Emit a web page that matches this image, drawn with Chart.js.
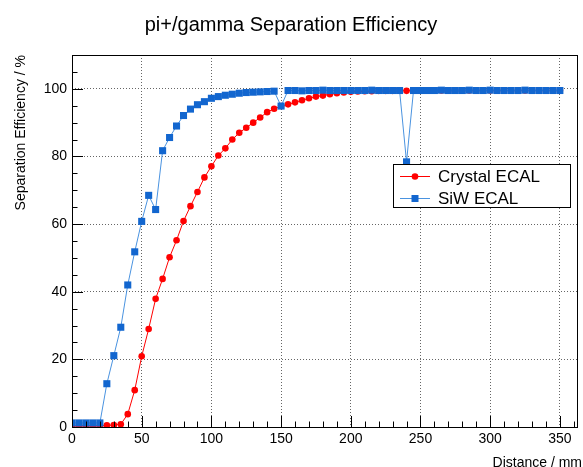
<!DOCTYPE html>
<html>
<head>
<meta charset="utf-8">
<script src="https://cdn.jsdelivr.net/npm/chart.js@4/dist/chart.umd.min.js"></script>
<style>
  html, body { margin: 0; padding: 0; background: #fff; }
  canvas { display: block; }
</style>
</head>
<body>
<canvas id="chart" width="583" height="467"></canvas>
<script>
const distances = [
  0, 5, 10, 15, 20, 25, 30, 35, 40, 45, 50, 55, 60, 65, 70, 75, 80, 85, 90, 95,
  100, 105, 110, 115, 120, 125, 130, 135, 140, 145, 150, 155, 160, 165, 170, 175,
  180, 185, 190, 195, 200, 205, 210, 215, 220, 225, 230, 235, 240, 245, 250, 255,
  260, 265, 270, 275, 280, 285, 290, 295, 300, 305, 310, 315, 320, 325, 330, 335,
  340, 345, 350
]
const crystalEcal = [
  0.3, 0.3, 0.3, 0.3, 0.3, 0.5, 0.6, 0.8, 3.8, 10.9, 20.9, 29.0, 37.9, 43.8, 50.2, 55.2, 60.9, 65.3, 69.5, 73.8,
  77.1, 80.3, 82.4, 85.0, 87.0, 88.5, 90.0, 91.5, 93.1, 94.1, 94.9, 95.4, 96.0, 96.6, 97.2, 97.7,
  98.0, 98.4, 98.7, 98.9, 99.1, 99.2, 99.3, 99.3, 99.4, 99.4, 99.4, 99.5, 99.4, 99.5, 99.5, 99.5,
  99.5, 99.5, 99.5, 99.5, 99.5, 99.5, 99.5, 99.5, 99.5, 99.5, 99.5, 99.5, 99.5, 99.5, 99.5, 99.5,
  99.5, 99.5, 99.5
]
const siwEcal = [
  1.2, 1.2, 1.2, 1.2, 1.2, 12.8, 21.1, 29.5, 42.0, 51.8, 60.8, 68.5, 64.3, 81.7, 85.6, 89.0, 92.1, 94.0, 95.3, 96.2,
  97.2, 97.7, 98.1, 98.4, 98.7, 98.9, 99.0, 99.1, 99.2, 99.3, 94.9, 99.5, 99.5, 99.4, 99.5, 99.5,
  99.6, 99.5, 99.5, 99.5, 99.5, 99.5, 99.5, 99.6, 99.5, 99.5, 99.5, 99.5, 78.4, 99.5, 99.5, 99.5,
  99.5, 99.6, 99.5, 99.5, 99.5, 99.6, 99.5, 99.5, 99.6, 99.5, 99.5, 99.5, 99.5, 99.6, 99.5, 99.5,
  99.5, 99.5, 99.5
]
const xTicks = [0, 50, 100, 150, 200, 250, 300, 350]
const yTicks = [0, 20, 40, 60, 80, 100]

const FONT = '"Liberation Sans", Arial, Helvetica, sans-serif'
const RED = '#ff0000'
const BLUE = '#1266cf'
const BLUE_LINE = '#4a93e0'

const toPoints = (ys) => distances.map((x, i) => ({ x, y: ys[i] }))

// ROOT-style frame, inward ticks, titles and legend box
const rootDecor = {
  id: 'rootDecor',
  afterDatasetsDraw(chart) {
    const { ctx, chartArea: a, scales: { x, y } } = chart
    ctx.save()
    ctx.strokeStyle = '#000'
    ctx.lineWidth = 1

    ctx.beginPath()
    for (let v = 0; v <= 360; v += 10) {
      const px = Math.round(x.getPixelForValue(v)) + 0.5
      const len = v % 50 === 0 ? 11 : 5.5
      ctx.moveTo(px, a.bottom)
      ctx.lineTo(px, a.bottom - len)
    }
    for (let v = 0; v <= 110; v += 5) {
      const py = Math.round(y.getPixelForValue(v)) + 0.5
      const len = v % 20 === 0 ? 11 : 5.5
      ctx.moveTo(a.left, py)
      ctx.lineTo(a.left + len, py)
    }
    ctx.stroke()
    ctx.strokeRect(a.left + 0.5, a.top + 0.5, a.right - a.left - 1, a.bottom - a.top)

    ctx.fillStyle = '#000'
    ctx.font = '20px ' + FONT
    ctx.textAlign = 'center'
    ctx.textBaseline = 'alphabetic'
    ctx.fillText('pi+/gamma Separation Efficiency', 291, 31)

    ctx.font = '14px ' + FONT
    ctx.textAlign = 'right'
    ctx.fillText('Distance / mm', 582, 467)

    ctx.save()
    ctx.translate(25, a.top)
    ctx.rotate(-Math.PI / 2)
    ctx.textAlign = 'right'
    ctx.fillText('Separation Efficiency / %', 0, 0)
    ctx.restore()

    // legend
    ctx.fillStyle = '#fff'
    ctx.fillRect(393, 164, 178, 44)
    ctx.strokeRect(393.5, 164.5, 177, 43)
    const entries = [
      { label: 'Crystal ECAL', line: RED, mark: RED, style: 'circle', yy: 176 },
      { label: 'SiW ECAL', line: BLUE_LINE, mark: BLUE, style: 'rect', yy: 198 }
    ]
    entries.forEach((e) => {
      ctx.strokeStyle = e.line
      ctx.beginPath()
      ctx.moveTo(400, e.yy + 0.5)
      ctx.lineTo(430, e.yy + 0.5)
      ctx.stroke()
      ctx.fillStyle = e.mark
      if (e.style === 'circle') {
        ctx.beginPath()
        ctx.arc(415, e.yy + 0.5, 3.3, 0, Math.PI * 2)
        ctx.fill()
      } else {
        ctx.fillRect(411.5, e.yy - 3, 7, 7)
      }
      ctx.fillStyle = '#000'
      ctx.font = '17px ' + FONT
      ctx.textAlign = 'left'
      ctx.textBaseline = 'middle'
      ctx.fillText(e.label, 438, e.yy + 1)
    })
    ctx.restore()
  }
}

const dotted = { color: '#666', lineWidth: 1, drawTicks: false }

new Chart(document.getElementById('chart'), {
  type: 'line',
  data: {
    datasets: [
      {
        label: 'Crystal ECAL',
        data: toPoints(crystalEcal),
        borderColor: RED,
        backgroundColor: RED,
        borderWidth: 1,
        pointStyle: 'circle',
        pointRadius: 3.3,
        pointBorderWidth: 0,
        order: 1
      },
      {
        label: 'SiW ECAL',
        data: toPoints(siwEcal),
        borderColor: BLUE_LINE,
        backgroundColor: BLUE,
        borderWidth: 1,
        pointStyle: 'rect',
        pointRadius: 5,
        pointBorderWidth: 0,
        order: 0
      }
    ]
  },
  plugins: [rootDecor],
  options: {
    responsive: false,
    animation: false,
    layout: { padding: { top: 55, right: 1, left: 0, bottom: 0 } },
    scales: {
      x: {
        type: 'linear',
        min: 0,
        max: 363,
        border: { display: false, dash: [1, 2] },
        grid: dotted,
        afterBuildTicks: (axis) => { axis.ticks = xTicks.map((value) => ({ value })) },
        afterFit: (axis) => { axis.height = 40 },
        ticks: {
          padding: 4,
          maxRotation: 0,
          color: '#000',
          font: { family: FONT, size: 14 }
        }
      },
      y: {
        min: 0,
        max: 110,
        border: { display: false, dash: [1, 2] },
        grid: dotted,
        afterBuildTicks: (axis) => { axis.ticks = yTicks.map((value) => ({ value })) },
        afterFit: (axis) => { axis.width = 72 },
        ticks: {
          padding: 5,
          color: '#000',
          font: { family: FONT, size: 14 }
        }
      }
    },
    plugins: {
      legend: { display: false },
      tooltip: { enabled: false }
    }
  }
})
</script>
</body>
</html>
